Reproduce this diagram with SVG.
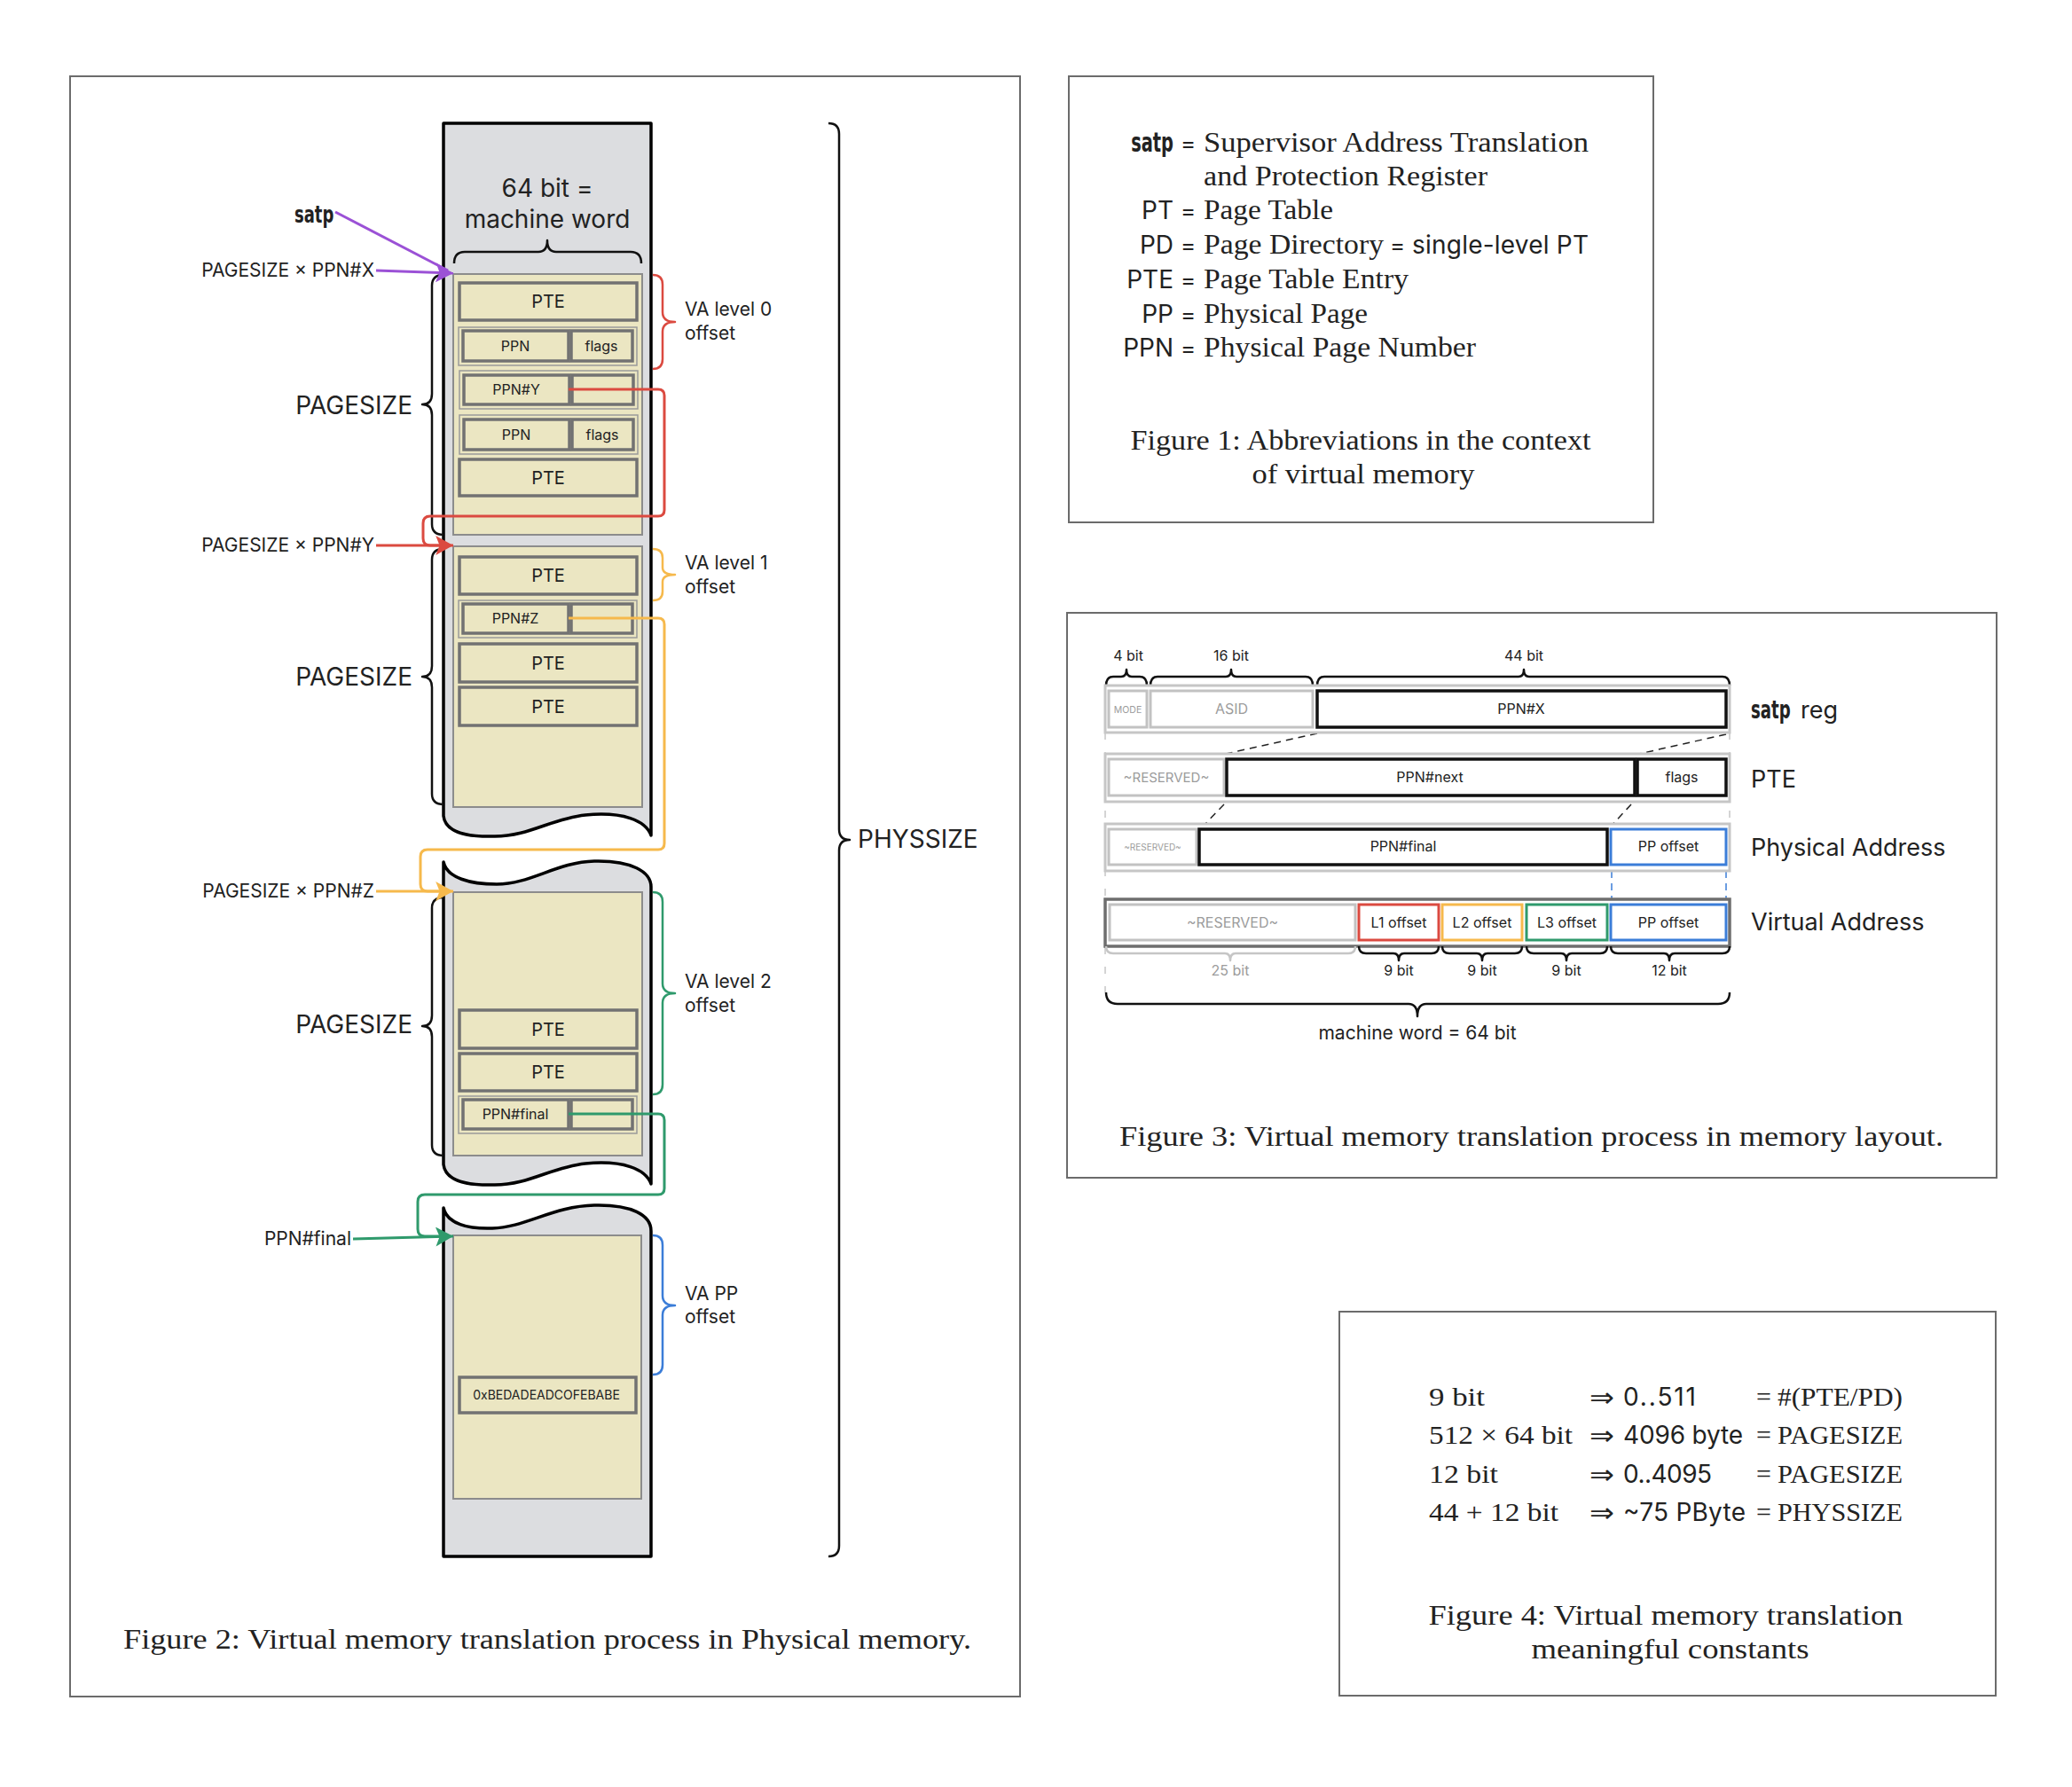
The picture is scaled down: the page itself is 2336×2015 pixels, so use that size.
<svg xmlns="http://www.w3.org/2000/svg" width="2336" height="2015" viewBox="0 0 2336 2015">
<defs>
<style>
.frame{fill:none;stroke:#6b6b6b;stroke-width:2}
.col{fill:#dcdde0;stroke:#000;stroke-width:3.5;stroke-linejoin:round}
.page{fill:#ebe6c2;stroke:#8c8c8c;stroke-width:2}
.row{fill:#ebe6c2;stroke:#727272;stroke-width:3.5}
.grp{fill:#ebe6c2;stroke:#9a9a9a;stroke-width:1.5}
.brace{fill:none;stroke:#111;stroke-width:2.5;stroke-linejoin:round}
.sans{font-family:Inter,"Noto Sans","DejaVu Sans",sans-serif;fill:#222}
.serif{font-family:"Liberation Serif","DejaVu Serif",serif;fill:#222}
.cond{font-family:"DejaVu Sans Condensed","DejaVu Sans",sans-serif;font-weight:bold;fill:#222}
.arrow{font-family:"DejaVu Sans","Noto Sans",sans-serif;fill:#222}
.mid{text-anchor:middle}
.end{text-anchor:end}
.gout{fill:#fff;stroke:#c6c6c6;stroke-width:3}
.gbox{fill:#fff;stroke:#c2c2c2;stroke-width:3}
.bbox{fill:#fff;stroke:#111;stroke-width:3.5}
.gtxt{fill:#9c9c9c}
.dash{fill:none;stroke:#222;stroke-width:1.5;stroke-dasharray:8 6}
.gdash{fill:none;stroke:#c6c6c6;stroke-width:1.5;stroke-dasharray:8 14}
.conn{fill:none;stroke-width:3;stroke-linejoin:round}
</style>
<marker id="ah-purple" markerUnits="userSpaceOnUse" viewBox="0 0 18 20" markerWidth="20" markerHeight="22" refX="18" refY="10" orient="auto"><path d="M0,0 L18,10 L0,20 L4,10 z" fill="#9b51d6"/></marker>
<marker id="ah-red" markerUnits="userSpaceOnUse" viewBox="0 0 18 20" markerWidth="20" markerHeight="22" refX="18" refY="10" orient="auto"><path d="M0,0 L18,10 L0,20 L4,10 z" fill="#db4a40"/></marker>
<marker id="ah-orange" markerUnits="userSpaceOnUse" viewBox="0 0 18 20" markerWidth="20" markerHeight="22" refX="18" refY="10" orient="auto"><path d="M0,0 L18,10 L0,20 L4,10 z" fill="#f6b94c"/></marker>
<marker id="ah-green" markerUnits="userSpaceOnUse" viewBox="0 0 18 20" markerWidth="20" markerHeight="22" refX="18" refY="10" orient="auto"><path d="M0,0 L18,10 L0,20 L4,10 z" fill="#2f9a6c"/></marker>
</defs>
<rect x="0" y="0" width="2336" height="2015" fill="#fff"/>

<!-- ================= FIGURE 2 ================= -->
<g id="fig2-frame">
<rect class="frame" x="79" y="86" width="1071" height="1827"/>
<text class="serif mid" x="617" y="1859" font-size="32" textLength="956" lengthAdjust="spacingAndGlyphs">Figure 2: Virtual memory translation process in Physical memory.</text>
</g>

<g id="mem-column-top">
<path class="col" d="M500,139 H734 V942 C728,925 702,915 660,919 C622,923 596,943 558,943 C526,944 502,938 500,920 Z"/>
<text class="sans mid" x="617" y="222" font-size="28">64 bit =</text>
<text class="sans mid" x="617" y="257" font-size="28">machine word</text>
<path class="brace" d="M512,297 Q512,284 524,284 H607 Q617,284 617,271 Q617,284 627,284 H711 Q723,284 723,297"/>
</g>

<g id="page-root">
<rect class="page" x="511" y="309" width="213" height="294"/>
<rect class="row" x="518" y="319" width="200" height="42"/>
<text class="sans mid" x="618" y="347" font-size="20">PTE</text>
<rect class="grp" x="517" y="369" width="201" height="43"/>
<rect class="row" x="522" y="373" width="119" height="34"/>
<rect class="row" x="644" y="373" width="69" height="34"/>
<text class="sans mid" x="581" y="396" font-size="16">PPN</text>
<text class="sans mid" x="678" y="396" font-size="16">flags</text>
<rect class="grp" x="518" y="418" width="201" height="43"/>
<rect class="row" x="523" y="423" width="119" height="33"/>
<rect class="row" x="645" y="423" width="69" height="33"/>
<text class="sans mid" x="582" y="445" font-size="16">PPN#Y</text>
<rect class="grp" x="518" y="468" width="201" height="44"/>
<rect class="row" x="523" y="473" width="119" height="34"/>
<rect class="row" x="645" y="473" width="69" height="34"/>
<text class="sans mid" x="582" y="496" font-size="16">PPN</text>
<text class="sans mid" x="679" y="496" font-size="16">flags</text>
<rect class="row" x="518" y="518" width="200" height="41"/>
<text class="sans mid" x="618" y="546" font-size="20">PTE</text>
<path class="brace" d="M500,310 Q487,310 487,322 V444 Q487,456 476,456 Q487,456 487,468 V591 Q487,603 500,603"/>
<text class="sans end" x="465" y="467" font-size="28">PAGESIZE</text>
<path class="brace" style="stroke:#db4a40" d="M736,310 Q747,310 747,321 V352 Q747,363 761,363 Q747,363 747,374 V405 Q747,416 736,416"/>
<text class="sans" x="772" y="356" font-size="21">VA level 0</text>
<text class="sans" x="772" y="383" font-size="21">offset</text>
</g>

<g id="page-l1">
<rect class="page" x="511" y="616" width="213" height="294"/>
<rect class="row" x="518" y="628" width="200" height="42"/>
<text class="sans mid" x="618" y="656" font-size="20">PTE</text>
<rect class="grp" x="517" y="677" width="201" height="42"/>
<rect class="row" x="522" y="681" width="119" height="33"/>
<rect class="row" x="644" y="681" width="69" height="33"/>
<text class="sans mid" x="581" y="703" font-size="16">PPN#Z</text>
<rect class="row" x="518" y="726" width="200" height="43"/>
<text class="sans mid" x="618" y="755" font-size="20">PTE</text>
<rect class="row" x="518" y="775" width="200" height="43"/>
<text class="sans mid" x="618" y="804" font-size="20">PTE</text>
<path class="brace" d="M500,619 Q487,619 487,631 V751 Q487,763 476,763 Q487,763 487,775 V895 Q487,907 500,907"/>
<text class="sans end" x="465" y="773" font-size="28">PAGESIZE</text>
<path class="brace" style="stroke:#f6b94c" d="M736,619 Q747,619 747,629 V640 Q747,648 761,648 Q747,648 747,656 V667 Q747,677 736,677"/>
<text class="sans" x="772" y="642" font-size="21">VA level 1</text>
<text class="sans" x="772" y="669" font-size="21">offset</text>
</g>

<g id="mem-column-mid">
<path class="col" d="M500,972 C504,990 530,997 560,997 C598,997 628,972 670,971 C712,970 734,983 734,1000 V1335 C728,1318 702,1308 660,1312 C622,1316 596,1336 558,1336 C526,1337 502,1331 500,1313 Z"/>
</g>

<g id="page-l2">
<rect class="page" x="511" y="1006" width="213" height="297"/>
<rect class="row" x="518" y="1139" width="200" height="43"/>
<text class="sans mid" x="618" y="1168" font-size="20">PTE</text>
<rect class="row" x="518" y="1188" width="200" height="42"/>
<text class="sans mid" x="618" y="1216" font-size="20">PTE</text>
<rect class="grp" x="517" y="1236" width="201" height="42"/>
<rect class="row" x="522" y="1240" width="119" height="33"/>
<rect class="row" x="644" y="1240" width="69" height="33"/>
<text class="sans mid" x="581" y="1262" font-size="16">PPN#final</text>
<path class="brace" d="M500,1012 Q487,1012 487,1024 V1145 Q487,1157 476,1157 Q487,1157 487,1169 V1291 Q487,1303 500,1303"/>
<text class="sans end" x="465" y="1165" font-size="28">PAGESIZE</text>
<path class="brace" style="stroke:#2f9a6c" d="M736,1006 Q747,1006 747,1017 V1109 Q747,1120 761,1120 Q747,1120 747,1131 V1223 Q747,1234 736,1234"/>
<text class="sans" x="772" y="1114" font-size="21">VA level 2</text>
<text class="sans" x="772" y="1141" font-size="21">offset</text>
</g>

<g id="mem-column-bottom">
<path class="col" d="M500,1362 C504,1380 528,1386 555,1385 C592,1384 624,1360 670,1359 C712,1358 734,1370 734,1388 V1755 H500 Z"/>
</g>

<g id="page-final">
<rect class="page" x="511" y="1393" width="212" height="297"/>
<rect class="row" x="518" y="1553" width="199" height="40"/>
<text class="sans mid" x="616" y="1578" font-size="14">0xBEDADEADCOFEBABE</text>
<path class="brace" style="stroke:#3b7dd8" d="M736,1393 Q747,1393 747,1404 V1461 Q747,1472 761,1472 Q747,1472 747,1483 V1539 Q747,1550 736,1550"/>
<text class="sans" x="772" y="1466" font-size="21">VA PP</text>
<text class="sans" x="772" y="1492" font-size="21">offset</text>
</g>

<g id="physsize">
<path class="brace" d="M934,139 Q946,139 946,151 V935 Q946,947 958,947 Q946,947 946,959 V1743 Q946,1755 934,1755"/>
<text class="sans" x="967" y="956" font-size="28">PHYSSIZE</text>
</g>

<g id="left-labels">
<text class="cond" transform="translate(332,251) scale(0.74,1)" font-size="27">satp</text>
<text class="sans end" x="422" y="312" font-size="21">PAGESIZE × PPN#X</text>
<text class="sans end" x="422" y="622" font-size="21">PAGESIZE × PPN#Y</text>
<text class="sans end" x="422" y="1012" font-size="21">PAGESIZE × PPN#Z</text>
<text class="sans end" x="396" y="1404" font-size="21">PPN#final</text>
</g>

<g id="connectors">
<path class="conn" stroke="#9b51d6" d="M378,239 L505,305"/>
<path class="conn" stroke="#9b51d6" d="M424,305 L511,308" marker-end="url(#ah-purple)"/>
<path class="conn" stroke="#db4a40" d="M641,439 H742 Q749,439 749,446 V575 Q749,582 742,582 H485 Q477,582 477,590 V607 Q477,615 485,615 H500"/>
<path class="conn" stroke="#db4a40" d="M424,615 H511" marker-end="url(#ah-red)"/>
<path class="conn" stroke="#f6b94c" d="M641,697 H742 Q749,697 749,704 V951 Q749,958 742,958 H482 Q474,958 474,966 V997 Q474,1005 482,1005 H500"/>
<path class="conn" stroke="#f6b94c" d="M424,1005 H511" marker-end="url(#ah-orange)"/>
<path class="conn" stroke="#2f9a6c" d="M641,1256 H742 Q749,1256 749,1263 V1340 Q749,1347 742,1347 H479 Q471,1347 471,1355 V1386 Q471,1394 479,1394 H500"/>
<path class="conn" stroke="#2f9a6c" d="M398,1397 L511,1394" marker-end="url(#ah-green)"/>
</g>

<!-- ================= FIGURE 1 ================= -->
<g id="fig1">
<rect class="frame" x="1205" y="86" width="659" height="503"/>
<text class="cond end" transform="translate(1323,171) scale(0.72,1)" font-size="30">satp</text>
<text class="sans" x="1331" y="171" font-size="26">=</text>
<text class="serif" x="1357" y="171" font-size="31" textLength="434" lengthAdjust="spacingAndGlyphs">Supervisor Address Translation</text>
<text class="serif" x="1357" y="209" font-size="31" textLength="320" lengthAdjust="spacingAndGlyphs">and Protection Register</text>
<text class="sans end" x="1323" y="247" font-size="28">PT</text>
<text class="sans" x="1331" y="247" font-size="26">=</text>
<text class="serif" x="1357" y="247" font-size="31" textLength="146" lengthAdjust="spacingAndGlyphs">Page Table</text>
<text class="sans end" x="1323" y="286" font-size="28">PD</text>
<text class="sans" x="1331" y="286" font-size="26">=</text>
<text class="serif" x="1357" y="286" font-size="31" textLength="203" lengthAdjust="spacingAndGlyphs">Page Directory</text>
<text class="sans" x="1567" y="286" font-size="26">=</text>
<text class="sans" x="1592" y="286" font-size="28" textLength="199">single-level PT</text>
<text class="sans end" x="1323" y="325" font-size="28">PTE</text>
<text class="sans" x="1331" y="325" font-size="26">=</text>
<text class="serif" x="1357" y="325" font-size="31" textLength="231" lengthAdjust="spacingAndGlyphs">Page Table Entry</text>
<text class="sans end" x="1323" y="364" font-size="28">PP</text>
<text class="sans" x="1331" y="364" font-size="26">=</text>
<text class="serif" x="1357" y="364" font-size="31" textLength="185" lengthAdjust="spacingAndGlyphs">Physical Page</text>
<text class="sans end" x="1323" y="402" font-size="28">PPN</text>
<text class="sans" x="1331" y="402" font-size="26">=</text>
<text class="serif" x="1357" y="402" font-size="31" textLength="307" lengthAdjust="spacingAndGlyphs">Physical Page Number</text>
<text class="serif mid" x="1534" y="507" font-size="31" textLength="519" lengthAdjust="spacingAndGlyphs">Figure 1: Abbreviations in the context</text>
<text class="serif mid" x="1537" y="545" font-size="31" textLength="251" lengthAdjust="spacingAndGlyphs">of virtual memory</text>
</g>

<!-- ================= FIGURE 3 ================= -->
<g id="fig3">
<rect class="frame" x="1203" y="691" width="1048" height="637"/>
<text class="serif" x="1262" y="1292" font-size="32" textLength="929" lengthAdjust="spacingAndGlyphs">Figure 3: Virtual memory translation process in memory layout.</text>
</g>

<g id="fig3-guides">
<path class="gdash" d="M1246,826 V1119"/>
<path class="gdash" d="M1950,826 V929"/>
<path class="dash" d="M1485,827 L1382,850"/>
<path class="dash" d="M1946,828 L1848,850"/>
<path class="dash" d="M1380,907 L1354,934"/>
<path class="dash" d="M1839,907 L1814,934"/>
<path class="dash" style="stroke:#3b7dd8" d="M1817,982 V1014"/>
<path class="dash" style="stroke:#3b7dd8" d="M1946,982 V1014"/>
</g>

<g id="satp-reg">
<text class="sans mid" x="1272" y="745" font-size="16">4 bit</text>
<text class="sans mid" x="1388" y="745" font-size="16">16 bit</text>
<text class="sans mid" x="1718" y="745" font-size="16">44 bit</text>
<path class="brace" d="M1247,773 Q1247,763 1255,763 H1264 Q1270,763 1270,755 Q1270,763 1276,763 H1285 Q1293,763 1293,773"/>
<path class="brace" d="M1297,773 Q1297,763 1305,763 H1382 Q1388,763 1388,755 Q1388,763 1394,763 H1472 Q1480,763 1480,773"/>
<path class="brace" d="M1485,773 Q1485,763 1493,763 H1712 Q1718,763 1718,755 Q1718,763 1724,763 H1942 Q1950,763 1950,773"/>
<rect class="gout" x="1246" y="773" width="704" height="53"/>
<rect class="gbox" x="1250" y="779" width="43" height="41"/>
<rect class="gbox" x="1297" y="779" width="183" height="41"/>
<rect class="bbox" x="1485" y="779" width="461" height="41"/>
<text class="sans mid gtxt" x="1271.5" y="804" font-size="10.5">MODE</text>
<text class="sans mid gtxt" x="1388.5" y="805" font-size="16">ASID</text>
<text class="sans mid" x="1715" y="805" font-size="16">PPN#X</text>
<text class="cond" transform="translate(1974,810) scale(0.72,1)" font-size="28">satp</text>
<text class="sans" x="2030" y="810" font-size="27">reg</text>
</g>

<g id="pte-layout">
<rect class="gout" x="1246" y="850" width="704" height="54"/>
<rect class="gbox" x="1250" y="856" width="130" height="41"/>
<rect class="bbox" x="1383" y="856" width="460" height="41"/>
<rect class="bbox" x="1846" y="856" width="100" height="41"/>
<text class="sans mid gtxt" x="1315" y="882" font-size="15">~RESERVED~</text>
<text class="sans mid" x="1612" y="882" font-size="16">PPN#next</text>
<text class="sans mid" x="1896" y="882" font-size="16">flags</text>
<text class="sans" x="1974" y="888" font-size="27">PTE</text>
</g>

<g id="physical-address">
<rect class="gout" x="1246" y="929" width="704" height="53"/>
<rect class="gbox" x="1250" y="935" width="99" height="40"/>
<rect class="bbox" x="1352" y="935" width="460" height="40"/>
<rect class="gbox" style="stroke:#3b7dd8" x="1816" y="935" width="130" height="40"/>
<text class="sans mid gtxt" x="1299.5" y="959" font-size="10">~RESERVED~</text>
<text class="sans mid" x="1582" y="960" font-size="16">PPN#final</text>
<text class="sans mid" x="1881" y="960" font-size="16">PP offset</text>
<text class="sans" x="1974" y="965" font-size="27">Physical Address</text>
</g>

<g id="virtual-address">
<rect class="gout" style="stroke:#6e6e6e;stroke-width:3.5" x="1246" y="1014" width="704" height="53"/>
<rect class="gbox" x="1251" y="1020" width="277" height="40"/>
<rect class="gbox" style="stroke:#db4a40" x="1532" y="1020" width="90" height="40"/>
<rect class="gbox" style="stroke:#f6b94c" x="1626" y="1020" width="90" height="40"/>
<rect class="gbox" style="stroke:#2f9a6c" x="1721" y="1020" width="91" height="40"/>
<rect class="gbox" style="stroke:#3b7dd8" x="1816" y="1020" width="130" height="40"/>
<text class="sans mid gtxt" x="1389.5" y="1046" font-size="16">~RESERVED~</text>
<text class="sans mid" x="1577" y="1046" font-size="16">L1 offset</text>
<text class="sans mid" x="1671" y="1046" font-size="16">L2 offset</text>
<text class="sans mid" x="1766.5" y="1046" font-size="16">L3 offset</text>
<text class="sans mid" x="1881" y="1046" font-size="16">PP offset</text>
<text class="sans" x="1974" y="1049" font-size="27">Virtual Address</text>
<path class="brace" style="stroke:#c6c6c6" d="M1247,1067 Q1247,1075 1255,1075 H1381 Q1387,1075 1387,1083 Q1387,1075 1393,1075 H1520 Q1528,1075 1528,1067"/>
<path class="brace" d="M1532,1067 Q1532,1075 1540,1075 H1571 Q1577,1075 1577,1083 Q1577,1075 1583,1075 H1614 Q1622,1075 1622,1067"/>
<path class="brace" d="M1626,1067 Q1626,1075 1634,1075 H1665 Q1671,1075 1671,1083 Q1671,1075 1677,1075 H1708 Q1716,1075 1716,1067"/>
<path class="brace" d="M1721,1067 Q1721,1075 1729,1075 H1760 Q1766,1075 1766,1083 Q1766,1075 1772,1075 H1804 Q1812,1075 1812,1067"/>
<path class="brace" d="M1816,1067 Q1816,1075 1824,1075 H1876 Q1882,1075 1882,1083 Q1882,1075 1888,1075 H1942 Q1950,1075 1950,1067"/>
<text class="sans mid gtxt" x="1387" y="1100" font-size="16">25 bit</text>
<text class="sans mid" x="1577" y="1100" font-size="16">9 bit</text>
<text class="sans mid" x="1671" y="1100" font-size="16">9 bit</text>
<text class="sans mid" x="1766" y="1100" font-size="16">9 bit</text>
<text class="sans mid" x="1882" y="1100" font-size="16">12 bit</text>
<path class="brace" d="M1247,1119 Q1247,1132 1260,1132 H1588 Q1598,1132 1598,1146 Q1598,1132 1608,1132 H1937 Q1950,1132 1950,1119"/>
<text class="sans mid" x="1598" y="1172" font-size="21">machine word = 64 bit</text>
</g>

<!-- ================= FIGURE 4 ================= -->
<g id="fig4">
<rect class="frame" x="1510" y="1479" width="740" height="433"/>
<text class="serif" x="1611" y="1585" font-size="30" textLength="63" lengthAdjust="spacingAndGlyphs">9 bit</text>
<text class="arrow" x="1792" y="1586" font-size="30" textLength="28" lengthAdjust="spacingAndGlyphs">⇒</text>
<text class="sans" x="1830" y="1585" font-size="28" textLength="82">0..511</text>
<text class="serif" x="1980" y="1585" font-size="30">=</text>
<text class="serif" x="2004" y="1585" font-size="30" textLength="141" lengthAdjust="spacingAndGlyphs">#(PTE/PD)</text>
<text class="serif" x="1611" y="1628" font-size="30" textLength="162" lengthAdjust="spacingAndGlyphs">512 × 64 bit</text>
<text class="arrow" x="1792" y="1629" font-size="30" textLength="28" lengthAdjust="spacingAndGlyphs">⇒</text>
<text class="sans" x="1830" y="1628" font-size="28" textLength="135">4096 byte</text>
<text class="serif" x="1980" y="1628" font-size="30">=</text>
<text class="serif" x="2004" y="1628" font-size="30" textLength="141" lengthAdjust="spacingAndGlyphs">PAGESIZE</text>
<text class="serif" x="1611" y="1672" font-size="30" textLength="78" lengthAdjust="spacingAndGlyphs">12 bit</text>
<text class="arrow" x="1792" y="1673" font-size="30" textLength="28" lengthAdjust="spacingAndGlyphs">⇒</text>
<text class="sans" x="1830" y="1672" font-size="28" textLength="100">0..4095</text>
<text class="serif" x="1980" y="1672" font-size="30">=</text>
<text class="serif" x="2004" y="1672" font-size="30" textLength="141" lengthAdjust="spacingAndGlyphs">PAGESIZE</text>
<text class="serif" x="1611" y="1715" font-size="30" textLength="146" lengthAdjust="spacingAndGlyphs">44 + 12 bit</text>
<text class="arrow" x="1792" y="1716" font-size="30" textLength="28" lengthAdjust="spacingAndGlyphs">⇒</text>
<text class="sans" x="1830" y="1715" font-size="28" textLength="138">~75 PByte</text>
<text class="serif" x="1980" y="1715" font-size="30">=</text>
<text class="serif" x="2004" y="1715" font-size="30" textLength="141" lengthAdjust="spacingAndGlyphs">PHYSSIZE</text>
<text class="serif mid" x="1878" y="1832" font-size="31" textLength="535" lengthAdjust="spacingAndGlyphs">Figure 4: Virtual memory translation</text>
<text class="serif mid" x="1883" y="1870" font-size="31" textLength="313" lengthAdjust="spacingAndGlyphs">meaningful constants</text>
</g>
</svg>
